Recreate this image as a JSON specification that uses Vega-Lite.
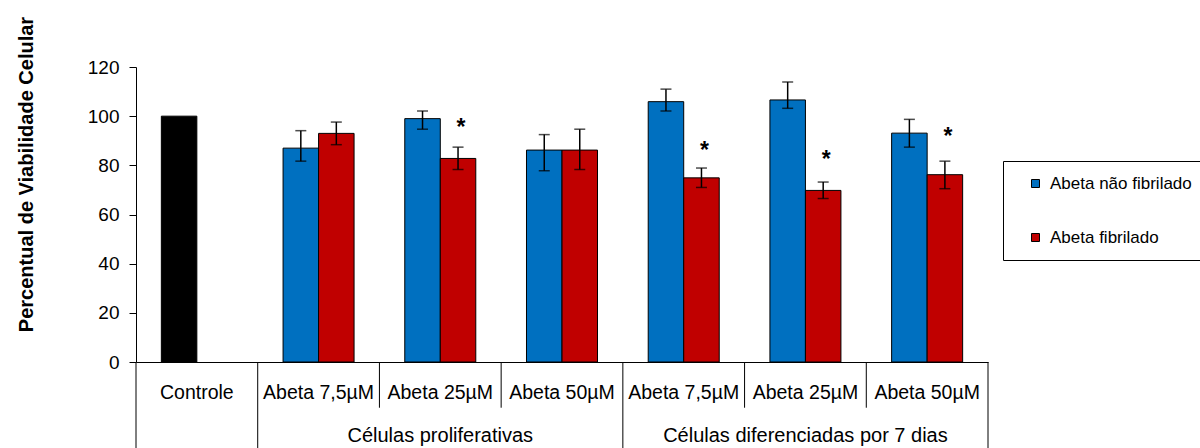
{
  "$schema": "https://vega.github.io/schema/vega-lite/v6.json",
  "width": 852,
  "height": 295,
  "autosize": "none",
  "padding": {"left": 136, "top": 67, "right": 212, "bottom": 86},
  "background": "white",
  "config": {
    "view": {"stroke": null},
    "font": "Liberation Sans",
    "text": {"font": "Liberation Sans", "color": "black"}
  },
  "datasets": {
    "bars": [
      {"cat": "C|Controle", "pos": "a", "series": "Controle", "v": 100},
      {"cat": "P|Abeta 7,5µM", "pos": "a", "series": "Abeta não fibrilado", "v": 87, "lo": 81.7, "hi": 94.1},
      {"cat": "P|Abeta 7,5µM", "pos": "b", "series": "Abeta fibrilado", "v": 93, "lo": 88.4, "hi": 97.6},
      {"cat": "P|Abeta 25µM", "pos": "a", "series": "Abeta não fibrilado", "v": 99, "lo": 94.7, "hi": 102.1},
      {"cat": "P|Abeta 25µM", "pos": "b", "series": "Abeta fibrilado", "v": 82.8, "lo": 78.3, "hi": 87.4, "star": 97.6},
      {"cat": "P|Abeta 50µM", "pos": "a", "series": "Abeta não fibrilado", "v": 86.2, "lo": 77.8, "hi": 92.5},
      {"cat": "P|Abeta 50µM", "pos": "b", "series": "Abeta fibrilado", "v": 86.2, "lo": 78.3, "hi": 94.7},
      {"cat": "D|Abeta 7,5µM", "pos": "a", "series": "Abeta não fibrilado", "v": 105.9, "lo": 102.1, "hi": 111.0},
      {"cat": "D|Abeta 7,5µM", "pos": "b", "series": "Abeta fibrilado", "v": 74.9, "lo": 71.0, "hi": 78.9, "star": 88.1},
      {"cat": "D|Abeta 25µM", "pos": "a", "series": "Abeta não fibrilado", "v": 106.6, "lo": 103.2, "hi": 113.9},
      {"cat": "D|Abeta 25µM", "pos": "b", "series": "Abeta fibrilado", "v": 69.8, "lo": 66.5, "hi": 73.2, "star": 84.7},
      {"cat": "D|Abeta 50µM", "pos": "a", "series": "Abeta não fibrilado", "v": 93.1, "lo": 87.4, "hi": 98.7},
      {"cat": "D|Abeta 50µM", "pos": "b", "series": "Abeta fibrilado", "v": 76.2, "lo": 70.5, "hi": 81.7, "star": 93.9}
    ],
    "bounds": [
      {"cat": "C|Controle", "end": 0, "top": 0, "bottom": -36},
      {"cat": "P|Abeta 7,5µM", "end": 0, "top": 0, "bottom": -36},
      {"cat": "P|Abeta 25µM", "end": 0, "top": 0, "bottom": -18.6},
      {"cat": "P|Abeta 50µM", "end": 0, "top": 0, "bottom": -18.6},
      {"cat": "D|Abeta 7,5µM", "end": 0, "top": 0, "bottom": -36},
      {"cat": "D|Abeta 25µM", "end": 0, "top": 0, "bottom": -18.6},
      {"cat": "D|Abeta 50µM", "end": 0, "top": 0, "bottom": -18.6},
      {"cat": "D|Abeta 50µM", "end": 1, "top": 0, "bottom": -36}
    ],
    "groups": [
      {"cat": "P|Abeta 25µM", "label": "Células proliferativas", "yv": -30},
      {"cat": "D|Abeta 25µM", "label": "Células diferenciadas por 7 dias", "yv": -30}
    ]
  },
  "layer": [
    {
      "data": {"name": "bars"},
      "mark": {"type": "bar", "stroke": "black", "strokeWidth": 1},
      "encoding": {
        "x": {
          "field": "cat", "type": "nominal", "sort": null,
          "scale": {
            "domain": ["C|Controle", "P|Abeta 7,5µM", "P|Abeta 25µM", "P|Abeta 50µM", "D|Abeta 7,5µM", "D|Abeta 25µM", "D|Abeta 50µM"],
            "paddingInner": 0, "paddingOuter": 0
          },
          "axis": {
            "title": null, "ticks": false, "labelAngle": 0,
            "labelExpr": "split(datum.label, '|')[1]",
            "labelFontSize": 19.5, "labelColor": "black", "labelPadding": 21,
            "labelFont": "Liberation Sans", "labelLimit": 200,
            "domainColor": "black", "domainWidth": 1
          }
        },
        "xOffset": {
          "field": "pos", "type": "nominal",
          "scale": {"domain": ["a", "b"], "paddingInner": 0, "paddingOuter": 0.714}
        },
        "y": {
          "field": "v", "type": "quantitative",
          "scale": {"domain": [0, 120], "nice": false, "zero": true},
          "axis": {
            "values": [0, 20, 40, 60, 80, 100, 120],
            "grid": false, "tickSize": 7, "tickColor": "black", "domainColor": "black",
            "labelFontSize": 19, "labelColor": "black", "labelPadding": 10,
            "labelFont": "Liberation Sans",
            "title": "Percentual de Viabilidade Celular",
            "titleFont": "Liberation Sans", "titleFontSize": 20, "titleFontWeight": "bold",
            "titleColor": "black", "titleAngle": 270, "titleAlign": "center",
            "titleBaseline": "middle", "titleX": -110, "titleY": 107
          }
        },
        "color": {
          "field": "series", "type": "nominal",
          "scale": {
            "domain": ["Abeta não fibrilado", "Abeta fibrilado", "Controle"],
            "range": ["#0070C0", "#C00000", "#000000"]
          },
          "legend": {
            "values": ["Abeta não fibrilado", "Abeta fibrilado"],
            "title": null, "orient": "none", "legendX": 867, "legendY": 94,
            "strokeColor": "black", "fillColor": "white", "padding": 14,
            "symbolType": "square", "symbolSize": 64, "symbolStrokeColor": "black",
            "symbolStrokeWidth": 1, "symbolOpacity": 1, "symbolOffset": 10,
            "labelFontSize": 17, "labelColor": "black", "labelFont": "Liberation Sans",
            "labelOffset": 6, "rowPadding": 36, "labelLimit": 300
          }
        }
      }
    },
    {
      "data": {"name": "bars"},
      "transform": [{"filter": "isValid(datum.lo)"}],
      "mark": {"type": "rule", "color": "black", "strokeWidth": 1.5},
      "encoding": {
        "x": {"field": "cat", "type": "nominal", "sort": null},
        "xOffset": {"field": "pos", "type": "nominal"},
        "y": {"field": "lo", "type": "quantitative"},
        "y2": {"field": "hi"}
      }
    },
    {
      "data": {"name": "bars"},
      "transform": [{"filter": "isValid(datum.lo)"}],
      "mark": {"type": "tick", "color": "black", "thickness": 1.5, "size": 11, "orient": "horizontal"},
      "encoding": {
        "x": {"field": "cat", "type": "nominal", "sort": null},
        "xOffset": {"field": "pos", "type": "nominal"},
        "y": {"field": "lo", "type": "quantitative"}
      }
    },
    {
      "data": {"name": "bars"},
      "transform": [{"filter": "isValid(datum.hi)"}],
      "mark": {"type": "tick", "color": "black", "thickness": 1.5, "size": 11, "orient": "horizontal"},
      "encoding": {
        "x": {"field": "cat", "type": "nominal", "sort": null},
        "xOffset": {"field": "pos", "type": "nominal"},
        "y": {"field": "hi", "type": "quantitative"}
      }
    },
    {
      "data": {"name": "bars"},
      "transform": [{"filter": "isValid(datum.star)"}],
      "mark": {"type": "text", "text": "*", "fontSize": 23, "fontWeight": "bold", "baseline": "alphabetic", "dy": 13, "dx": 3, "color": "black"},
      "encoding": {
        "x": {"field": "cat", "type": "nominal", "sort": null},
        "xOffset": {"field": "pos", "type": "nominal"},
        "y": {"field": "star", "type": "quantitative"}
      }
    },
    {
      "data": {"name": "bounds"},
      "transform": [{"filter": "datum.end == 0"}],
      "mark": {"type": "rule", "color": "black", "strokeWidth": 1},
      "encoding": {
        "x": {"field": "cat", "type": "nominal", "sort": null, "bandPosition": 0},
        "y": {"field": "top", "type": "quantitative"},
        "y2": {"field": "bottom"}
      }
    },
    {
      "data": {"name": "bounds"},
      "transform": [{"filter": "datum.end == 1"}],
      "mark": {"type": "rule", "color": "black", "strokeWidth": 1},
      "encoding": {
        "x": {"field": "cat", "type": "nominal", "sort": null, "bandPosition": 1},
        "y": {"field": "top", "type": "quantitative"},
        "y2": {"field": "bottom"}
      }
    },
    {
      "data": {"name": "groups"},
      "mark": {"type": "text", "fontSize": 20, "baseline": "middle", "align": "center", "color": "black"},
      "encoding": {
        "x": {"field": "cat", "type": "nominal", "sort": null},
        "y": {"field": "yv", "type": "quantitative"},
        "text": {"field": "label"}
      }
    }
  ]
}
